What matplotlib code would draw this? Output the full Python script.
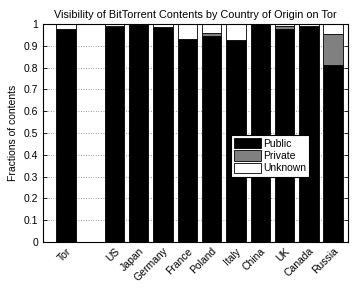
import numpy as np
import matplotlib
matplotlib.use("Agg")
import matplotlib.pyplot as plt

plt.rcParams['font.family'] = ['Liberation Sans', 'DejaVu Sans']

# data
countries = ['Tor', '', 'US', 'Japan', 'Germany', 'France', 'Poland', 'Italy',
             'China', 'UK', 'Canada', 'Russia']
public = [0.976, 0, 0.986, 0.997, 0.985, 0.933, 0.943, 0.926, 1.0, 0.977, 0.99, 0.813]
private = [0.003, 0, 0.003, 0.001, 0.001, 0.0, 0.017, 0.0, 0.0, 0.012, 0.001, 0.14]
unknown = [1 - a - b if a > 0 else 0 for a, b in zip(public, private)]

fig = plt.figure(figsize=(3.56, 3.07), dpi=100)
ax = fig.add_axes([0.121, 0.212, 0.857, 0.71])

x = np.arange(1, len(countries) + 1)
w = 0.8
pub = np.array(public)
pri = np.array(private)
unk = np.array(unknown)
ax.bar(x, pub, w, color='black', edgecolor='black', linewidth=0.6, label='Public')
ax.bar(x, pri, w, bottom=pub, color='#808080', edgecolor='black', linewidth=0.6,
       label='Private')
ax.bar(x, unk, w, bottom=pub + pri, color='white', edgecolor='black', linewidth=0.6,
       label='Unknown')

ax.set_xlim(0.06, 12.62)
ax.set_ylim(0, 1)
ax.set_yticks(np.arange(0, 1.01, 0.1))
ax.set_yticklabels(['0'] + ['%.1f' % v for v in np.arange(0.1, 0.95, 0.1)] + ['1'])
ax.set_xticks(x)
ax.set_xticklabels(countries, rotation=45, ha='right', rotation_mode='anchor')
ax.tick_params(axis='both', labelsize=7.5, direction='in', length=3, width=0.6,
               right=True, top=False)
ax.tick_params(axis='x', length=0, pad=3)
ax.yaxis.grid(True, linestyle=(0, (1, 2)), color='#777777', linewidth=0.6)
ax.set_axisbelow(True)
for s in ax.spines.values():
    s.set_linewidth(0.8)

ax.set_ylabel('Fractions of contents', fontsize=7.5, labelpad=4)
ax.set_title('Visibility of BitTorrent Contents by Country of Origin on Tor',
             fontsize=7.8, pad=4)

leg = ax.legend(loc='lower left', bbox_to_anchor=(0.615, 0.3), fontsize=7.5,
                frameon=True, fancybox=False, edgecolor='black', framealpha=1,
                handlelength=2.6, handleheight=1.2, handletextpad=0.2,
                borderpad=0.3, labelspacing=0.15, borderaxespad=0)
leg.get_frame().set_linewidth(0.8)

fig.savefig('out.png', dpi=100)
